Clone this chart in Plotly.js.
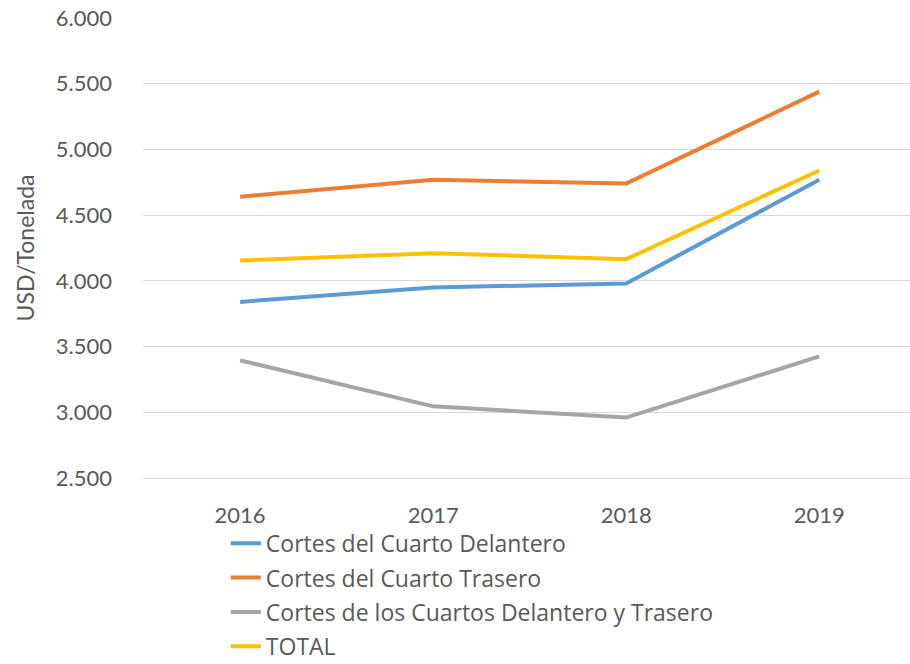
<!DOCTYPE html>
<html>
<head>
<meta charset="utf-8">
<script src="https://cdn.plot.ly/plotly-3.0.1.min.js"></script>
<style>html,body{margin:0;padding:0;background:#fff}#chart{width:910px;height:664px}</style>
</head>
<body>
<div id="chart"></div>
<script>
const years = ['2016', '2017', '2018', '2019'];
const delantero = [3840, 3950, 3980, 4770];
const trasero = [4640, 4770, 4740, 5440];
const ambos = [3395, 3045, 2960, 3425];
const total = [4155, 4210, 4165, 4840];
const seriesNames = ['Cortes del Cuarto Delantero', 'Cortes del Cuarto Trasero', 'Cortes de los Cuartos Delantero y Trasero', 'TOTAL'];
const seriesColors = ['#5B9BD5', '#ED7D31', '#A5A5A5', '#FFC000'];
const seriesValues = [delantero, trasero, ambos, total];

const traces = seriesValues.map((v, i) => ({
  type: 'scatter', mode: 'lines', x: years, y: v, name: seriesNames[i],
  legendgroup: 'g' + i,
  line: {color: seriesColors[i], width: 4}
}));

const layout = {
  width: 910, height: 664,
  margin: {l: 143, r: 0, t: 18, b: 186, autoexpand: false},
  paper_bgcolor: '#fff', plot_bgcolor: '#fff',
  separators: ',.',
  font: {family: 'Lato, "Open Sans", sans-serif', color: '#595959'},
  showlegend: true,
  legend: {
    x: 0.108, xanchor: 'left', y: -0.095, yanchor: 'top',
    font: {size: 23, family: '"Open Sans", sans-serif', color: '#595959'},
    tracegroupgap: 1.5, traceorder: 'grouped',
    bgcolor: 'rgba(0,0,0,0)'
  },
  xaxis: {
    type: 'category', range: [-0.503, 3.47],
    showgrid: false, zeroline: false,
    showline: true, linecolor: '#d9d9d9', linewidth: 1,
    ticks: '', tickfont: {size: 22, color: '#595959'},
    ticklabelstandoff: 18
  },
  yaxis: {
    range: [2500, 6000], dtick: 500, tick0: 2500,
    tickformat: ',d',
    showgrid: true, gridcolor: '#d9d9d9', gridwidth: 1,
    zeroline: false, showline: false,
    ticks: '', tickfont: {size: 22, color: '#595959'},
    ticklabelstandoff: 30,
    title: {text: 'USD/Tonelada', font: {size: 23, color: '#595959'}, standoff: 14}
  }
};

Plotly.newPlot('chart', traces, layout, {displayModeBar: false, staticPlot: true});
</script>
</body>
</html>
